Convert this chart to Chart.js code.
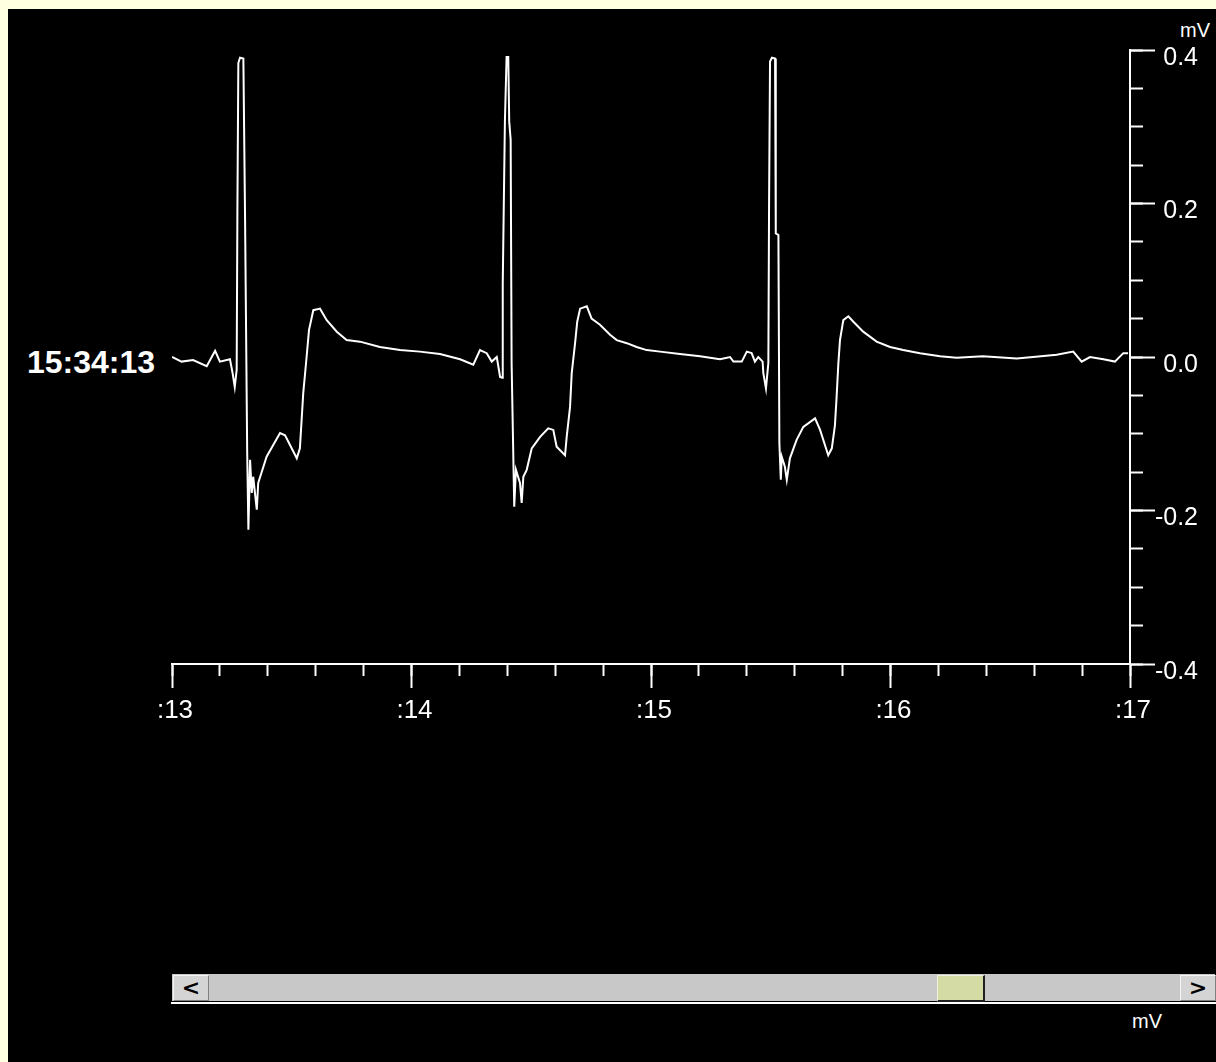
<!DOCTYPE html>
<html>
<head>
<meta charset="utf-8">
<script src="https://cdn.jsdelivr.net/npm/chart.js@4.4.1/dist/chart.umd.min.js"></script>
<style>
  html, body { margin:0; padding:0; }
  body { width:1216px; height:1062px; background:#FEFEE0; position:relative; overflow:hidden; font-family:"Liberation Sans", Arial, sans-serif; }
  #panel { position:absolute; left:8px; top:9px; width:1208px; height:1053px; background:#000; }
  #c { position:absolute; left:0; top:0; }
  .txt { position:absolute; color:#fff; white-space:nowrap; }
  #stamp { left:27px; top:346px; font-size:32px; line-height:32px; font-weight:bold; }
  #unitTop { left:1180px; top:20px; font-size:20px; line-height:20px; }
  #unitBottom { left:1132px; top:1011px; font-size:20px; line-height:20px; }
  #track { position:absolute; left:172px; top:974px; width:1043px; height:27px; background:#C8C8C8; }
  .btn { position:absolute; top:975px; width:34px; height:24px; background:#D4D4D4;
         border-top:1px solid #F4F4F4; border-left:1px solid #F4F4F4; border-right:1px solid #808080; border-bottom:1px solid #808080;
         color:#000; font:bold 22px "DejaVu Sans", sans-serif; line-height:24px; text-align:center; }
  #btnL { left:173px; }
  #btnR { left:1180px; }
  #thumb { position:absolute; left:937px; top:975px; width:45px; height:24px; background:#D5DBA5;
           border-top:1px solid #F0F0E0; border-left:1px solid #F0F0E0; border-right:2px solid #202020; border-bottom:2px solid #202020; }
  #wline { position:absolute; left:171px; top:1002px; width:1045px; height:2px; background:#fff; }
</style>
</head>
<body>
<div id="panel"></div>
<div class="txt" id="stamp">15:34:13</div>
<div class="txt" id="unitTop">mV</div>
<div id="track"></div>
<div class="btn" id="btnL">&lt;</div>
<div id="thumb"></div>
<div class="btn" id="btnR">&gt;</div>
<div id="wline"></div>
<div class="txt" id="unitBottom">mV</div>
<canvas id="c" width="1216" height="1062"></canvas>
<script>
// ---- data: ECG trace, time (s within minute 15:34) and voltage (mV) ----
const timesSec = [
  13.000, 13.040, 13.088, 13.145, 13.180, 13.200, 13.242, 13.253, 13.262, 13.270,
  13.273, 13.277, 13.284, 13.298, 13.305, 13.314, 13.319, 13.326, 13.333, 13.339,
  13.354, 13.360, 13.395, 13.451, 13.472, 13.521, 13.534, 13.548, 13.562, 13.572,
  13.590, 13.618, 13.646, 13.688, 13.729, 13.785, 13.868, 13.952, 14.035, 14.119,
  14.203, 14.258, 14.286, 14.314, 14.335, 14.356, 14.370, 14.379, 14.381, 14.390,
  14.397, 14.404, 14.408, 14.414, 14.418, 14.429, 14.436, 14.453, 14.460, 14.467,
  14.481, 14.502, 14.537, 14.571, 14.592, 14.606, 14.641, 14.648, 14.662, 14.669,
  14.683, 14.692, 14.704, 14.732, 14.752, 14.787, 14.829, 14.857, 14.899, 14.940,
  14.982, 15.038, 15.121, 15.205, 15.288, 15.330, 15.344, 15.379, 15.400, 15.420,
  15.434, 15.448, 15.466, 15.469, 15.480, 15.490, 15.493, 15.497, 15.505, 15.518,
  15.521, 15.532, 15.536, 15.542, 15.546, 15.559, 15.567, 15.580, 15.608, 15.636,
  15.685, 15.706, 15.740, 15.755, 15.768, 15.775, 15.782, 15.789, 15.803, 15.824,
  15.845, 15.886, 15.942, 15.998, 16.053, 16.123, 16.207, 16.276, 16.386, 16.527,
  16.595, 16.694, 16.763, 16.798, 16.833, 16.889, 16.937, 16.972, 16.992
];
const voltsMV = [
  0.000, -0.006, -0.004, -0.012, 0.008, -0.006, -0.003, -0.021, -0.039, -0.017,
  0.187, 0.383, 0.390, 0.389, 0.183, -0.125, -0.225, -0.134, -0.177, -0.156,
  -0.199, -0.164, -0.130, -0.099, -0.102, -0.132, -0.119, -0.047, 0.000, 0.035,
  0.061, 0.063, 0.048, 0.033, 0.022, 0.020, 0.013, 0.009, 0.007, 0.004,
  -0.003, -0.010, 0.009, 0.005, -0.006, 0.000, -0.026, -0.027, 0.096, 0.307,
  0.391, 0.391, 0.307, 0.283, -0.008, -0.195, -0.147, -0.164, -0.190, -0.156,
  -0.147, -0.119, -0.104, -0.093, -0.095, -0.117, -0.128, -0.104, -0.065, -0.021,
  0.018, 0.046, 0.063, 0.066, 0.050, 0.042, 0.029, 0.022, 0.018, 0.013,
  0.009, 0.007, 0.004, 0.001, -0.003, 0.000, -0.006, -0.006, 0.007, 0.005,
  -0.006, 0.000, -0.006, -0.021, -0.041, -0.008, 0.200, 0.385, 0.390, 0.389,
  0.161, 0.159, -0.112, -0.160, -0.130, -0.143, -0.160, -0.132, -0.108, -0.091,
  -0.080, -0.095, -0.128, -0.119, -0.089, -0.052, -0.010, 0.022, 0.048, 0.053,
  0.046, 0.033, 0.020, 0.013, 0.009, 0.005, 0.001, -0.001, 0.001, -0.002,
  0.000, 0.003, 0.007, -0.006, 0.000, -0.003, -0.006, 0.005, 0.005
];
// axis ranges and tick steps
const timeRange = [13, 17];
const voltRange = [-0.4, 0.4];
const timeMajorStep = 1, timeMinorStep = 0.2;
const voltMajorStep = 0.2, voltMinorStep = 0.05;

const labelFont = { family: 'Liberation Sans', size: 25 };
const points = timesSec.map((t, i) => ({ x: t, y: voltsMV[i] }));

new Chart(document.getElementById('c'), {
  type: 'line',
  data: {
    datasets: [{
      data: points,
      borderColor: '#ffffff',
      borderWidth: 2,
      pointRadius: 0,
      tension: 0,
      fill: false,
      xAxisID: 'x',
      yAxisID: 'y'
    }]
  },
  options: {
    responsive: false,
    animation: false,
    events: [],
    layout: { padding: { left: 172, top: 50, right: 18, bottom: 338 } },
    plugins: { legend: { display: false }, tooltip: { enabled: false } },
    scales: {
      x: {
        type: 'linear', position: 'bottom', weight: 1,
        min: timeRange[0], max: timeRange[1],
        ticks: {
          stepSize: timeMajorStep, color: '#ffffff', font: { family: 'Liberation Sans', size: 26 },
          padding: 7, maxRotation: 0, autoSkip: false, labelOffset: 3,
          callback: v => ':' + Math.round(v)
        },
        grid: { drawOnChartArea: false, drawTicks: true, tickLength: 24, tickColor: '#ffffff', tickWidth: 2 },
        border: { display: true, color: '#ffffff', width: 2 },
        afterFit: s => { s.height = 60; }
      },
      xMinor: {
        type: 'linear', position: 'bottom', weight: 0,
        min: timeRange[0], max: timeRange[1],
        ticks: { stepSize: timeMinorStep, display: false, autoSkip: false },
        grid: { drawOnChartArea: false, drawTicks: true, tickLength: 12, tickColor: '#ffffff', tickWidth: 2 },
        border: { display: false },
        afterFit: s => { s.height = 0; }
      },
      y: {
        type: 'linear', position: 'right', weight: 1,
        min: voltRange[0], max: voltRange[1],
        ticks: {
          stepSize: voltMajorStep, color: '#ffffff', font: labelFont,
          padding: 0, crossAlign: 'far', labelOffset: 8, autoSkip: false,
          callback: v => (Math.round(v * 10) / 10).toFixed(1)
        },
        grid: { drawOnChartArea: false, drawTicks: true, tickLength: 25, tickColor: '#ffffff', tickWidth: 2 },
        border: { display: true, color: '#ffffff', width: 2 },
        afterFit: s => { s.width = 68; }
      },
      yMinor: {
        type: 'linear', position: 'right', weight: 0,
        min: voltRange[0], max: voltRange[1],
        ticks: { stepSize: voltMinorStep, display: false, autoSkip: false },
        grid: { drawOnChartArea: false, drawTicks: true, tickLength: 13, tickColor: '#ffffff', tickWidth: 2 },
        border: { display: false },
        afterFit: s => { s.width = 0; }
      }
    }
  }
});
</script>
</body>
</html>
